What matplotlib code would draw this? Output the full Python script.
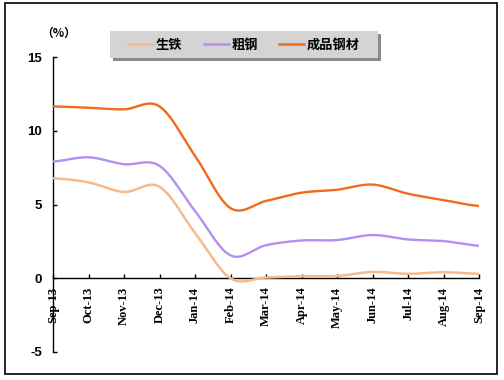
import numpy as np
import matplotlib
matplotlib.use("Agg")
import matplotlib.pyplot as plt
from matplotlib.lines import Line2D
from matplotlib.patches import Rectangle

months = ['Sep-13', 'Oct-13', 'Nov-13', 'Dec-13', 'Jan-14', 'Feb-14', 'Mar-14',
          'Apr-14', 'May-14', 'Jun-14', 'Jul-14', 'Aug-14', 'Sep-14']
pig_iron = [6.78, 6.5, 5.85, 6.2, 3.08, 0.0, 0.05, 0.14, 0.15, 0.43, 0.3, 0.41, 0.3]
crude_steel = [7.91, 8.2, 7.73, 7.62, 4.56, 1.55, 2.24, 2.56, 2.59, 2.93, 2.63, 2.52, 2.2]
finished_steel = [11.65, 11.56, 11.45, 11.65, 8.3, 4.75, 5.24, 5.8, 6.0, 6.35, 5.73, 5.3, 4.9]
series_names = ['生铁', '粗钢', '成品钢材']
series_colors = ['#F6BA8C', '#B48EF2', '#F26A1B']
y_ticks = [-5, 0, 5, 10, 15]

plt.rcParams['font.family'] = ['Noto Sans CJK SC', 'DejaVu Sans']


def smooth(y, n=30):
    y = np.asarray(y, dtype=float)
    p = np.concatenate([[y[0]], y, [y[-1]]])
    xs, ys = [], []
    for i in range(len(y) - 1):
        p0, p1, p2, p3 = p[i], p[i + 1], p[i + 2], p[i + 3]
        t = np.linspace(0, 1, n, endpoint=(i == len(y) - 2))
        m1 = (p2 - p0) / 2
        m2 = (p3 - p1) / 2
        h00 = 2 * t**3 - 3 * t**2 + 1
        h10 = t**3 - 2 * t**2 + t
        h01 = -2 * t**3 + 3 * t**2
        h11 = t**3 - t**2
        xs.append(i + t)
        ys.append(h00 * p1 + h10 * m1 + h01 * p2 + h11 * m2)
    return np.concatenate(xs), np.concatenate(ys)


fig = plt.figure(figsize=(5.04, 3.80), dpi=100)
W, H = 504, 380
ax = fig.add_axes([53 / W, 1 - 352 / H, (479 - 53) / W, (352 - 57) / H])

x = np.arange(len(months))
for vals, c, lw in zip([pig_iron, crude_steel, finished_steel], series_colors, [1.8, 1.7, 1.7]):
    sx, sy = smooth(vals)
    ax.plot(sx, sy, color=c, lw=lw, solid_capstyle='butt', zorder=3)

ax.set_xlim(0, 12)
ax.set_ylim(-5, 15)
ax.spines['top'].set_visible(False)
ax.spines['right'].set_visible(False)
ax.spines['bottom'].set_position(('data', 0))
ax.spines['left'].set_linewidth(1.0)
ax.spines['bottom'].set_linewidth(1.0)

ax.set_xticks(x)
ax.set_xticklabels(months, rotation=90, fontfamily='Liberation Serif',
                   fontweight='bold', fontsize=9, va='top', ha='center')
ax.tick_params(axis='x', direction='in', length=3, pad=6, width=1)
ax.set_yticks(y_ticks)
ax.set_yticklabels([str(v) for v in y_ticks], fontfamily='Liberation Sans',
                   fontweight='bold', fontsize=9.5)
ax.tick_params(axis='y', direction='in', length=3, pad=8, width=1)

fig.text(59 / W, 1 - 33 / H, '（%）', ha='center', va='center', fontsize=8.5,
         fontweight='bold', family=['Noto Sans CJK SC', 'DejaVu Sans'])

# legend box with shadow
lx0, ly0, lx1, ly1 = 110, 31, 378, 58
fig.patches.append(Rectangle(((lx0 + 3) / W, 1 - (ly1 + 3) / H), (lx1 - lx0) / W, (ly1 - ly0) / H,
                             transform=fig.transFigure, facecolor='#8A8A8A', edgecolor='none',
                             zorder=1))
fig.patches.append(Rectangle((lx0 / W, 1 - ly1 / H), (lx1 - lx0) / W, (ly1 - ly0) / H,
                             transform=fig.transFigure, facecolor='#D4D4D4', edgecolor='none',
                             zorder=2))
handles = [Line2D([], [], color=c, lw=1.8) for c in series_colors]
leg = fig.legend(handles, series_names, loc='center', ncol=3,
                 bbox_to_anchor=((lx0 + lx1) / 2 / W, 1 - (ly0 + ly1) / 2 / H),
                 bbox_transform=fig.transFigure, frameon=False,
                 handlelength=1.9, handletextpad=0.2, columnspacing=1.6,
                 prop={'family': ['Noto Sans CJK SC', 'DejaVu Sans'], 'weight': 'bold', 'size': 9.5})
leg.set_zorder(5)

# outer border
fig.patches.append(Rectangle((5 / W, 1 - 374 / H), (497 - 5) / W, (374 - 3) / H,
                             transform=fig.transFigure, facecolor='none', edgecolor='black',
                             linewidth=1.2, zorder=10))

fig.savefig('out.png', dpi=100)
